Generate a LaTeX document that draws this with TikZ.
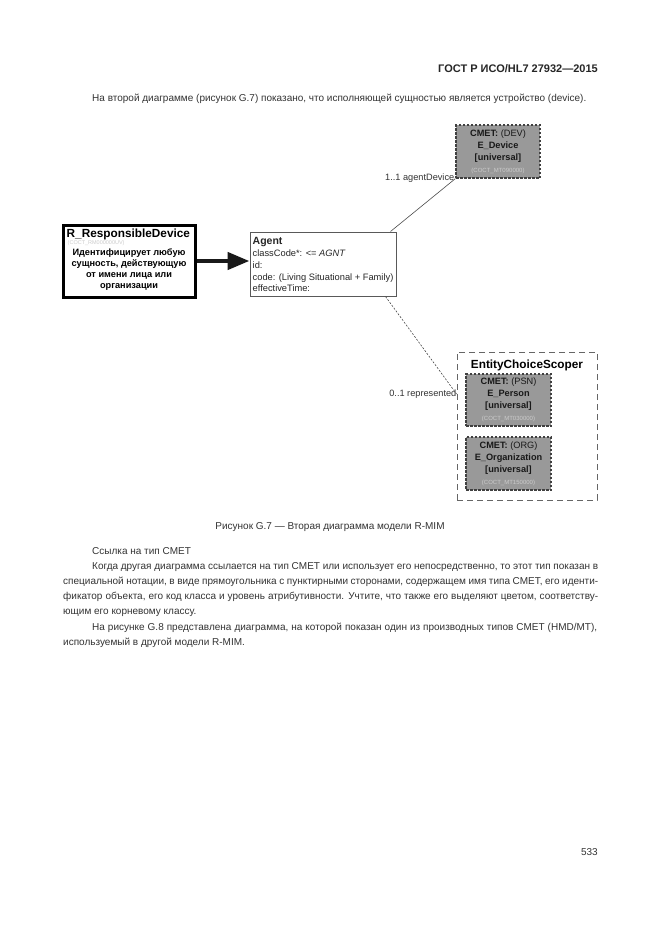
\documentclass[tikz,border=0pt]{standalone}
\usepackage{fontspec}
\setmainfont{Liberation Sans}
\usetikzlibrary{arrows.meta}
\begin{document}
\begin{tikzpicture}[x=1pt,y=-1pt,
  body/.style={inner sep=0pt, anchor=base west, text=black!80, font=\fontsize{10}{15}\selectfont},
  rbox/.style={draw=black, line width=3pt, fill=white, minimum width=132pt, minimum height=72pt, inner sep=0pt},
  classbox/.style={draw=black!65, line width=1pt, fill=white, minimum width=146pt, minimum height=64pt, inner sep=0pt},
  cmetbox/.style={draw=black!75, line width=1.1pt, dash pattern=on 2.5pt off 1.5pt, fill=black!40, inner sep=0pt, align=center, text=black!90, font=\fontsize{9.2}{12}\selectfont},
  choicebox/.style={draw=black!60, line width=0.9pt, dash pattern=on 6pt off 4pt, minimum width=140pt, minimum height=148pt, inner sep=0pt},
  idtext/.style={text=black!20, font=\fontsize{5.5}{6}\selectfont},
  rolelabel/.style={inner sep=1pt, text=black!80, font=\fontsize{9.2}{10}\selectfont},
  assoc/.style={draw=black!70, line width=0.6pt},
  bigarrow/.style={draw=black!90, line width=4.5pt, -{Triangle[length=22pt,width=17pt]}}
]
\fill[white] (0,0) rectangle (661,935);
\useasboundingbox (0,0) rectangle (661,935);

% header and intro text
\node[body, anchor=base east, font=\bfseries\fontsize{11}{13}\selectfont, text=black!85] (hdr) at (598,72) {ГОСТ Р ИСО/HL7 27932—2015};
\node[body] (intro) at (92,101) {На второй диаграмме (рисунок G.7) показано, что исполняющей сущностью является устройство (device).};

% R_ResponsibleDevice
\node[rbox] (R) at (129,261) {};
\node[inner sep=0pt, anchor=base west, font=\bfseries\fontsize{11.8}{13}\selectfont] (Rt) at ([xshift=5pt,yshift=-13.5pt]R.north west) {R\_ResponsibleDevice};
\node[inner sep=0pt, anchor=base west, idtext] (Rid) at ([xshift=6pt,yshift=-21pt]R.north west) {(COCT\_RM000000UV)};
\node[inner sep=0pt, anchor=north, align=center, font=\bfseries\fontsize{9.2}{11}\selectfont] (Rd) at ([yshift=-25pt]R.north) {Идентифицирует любую\\сущность, действующую\\от имени лица или\\организации};

% Agent
\node[classbox] (A) at (323,264) {};
\node[inner sep=0pt, anchor=north west, align=left, text=black!85, font=\fontsize{9.3}{11.7}\selectfont] (At) at ([xshift=3pt,yshift=-6pt]A.north west)
  {{\bfseries\fontsize{10.5}{11.7}\selectfont Agent}\\classCode*: <= \textit{AGNT}\\id:\\code: (Living Situational + Family)\\effectiveTime:};

% CMET device
\node[cmetbox, minimum width=84pt, minimum height=53pt] (DEV) at (498,151.5)
  {{\bfseries CMET:} (DEV)\\{\bfseries E\_Device}\\{\bfseries [universal]}\\{\fontsize{6}{6}\selectfont\color{black!20}(COCT\_MT090000)}};

% EntityChoiceScoper
\node[choicebox] (ECS) at (527,426) {};
\node[inner sep=0pt, anchor=base, font=\bfseries\fontsize{11.8}{13}\selectfont] (ECSt) at ([yshift=-17pt]ECS.north) {EntityChoiceScoper};
\node[cmetbox, minimum width=85pt, minimum height=52pt] (PSN) at (508.5,400)
  {{\bfseries CMET:} (PSN)\\{\bfseries E\_Person}\\{\bfseries [universal]}\\{\fontsize{6}{6}\selectfont\color{black!20}(COCT\_MT030000)}};
\node[cmetbox, minimum width=85pt, minimum height=53pt] (ORG) at (508.5,463.5)
  {{\bfseries CMET:} (ORG)\\{\bfseries E\_Organization}\\{\bfseries [universal]}\\{\fontsize{6}{6}\selectfont\color{black!20}(COCT\_MT150000)}};

% connectors
\draw[bigarrow] (R.east) -- (A.west |- R.east);
\draw[assoc] ([xshift=-6pt]A.north east) -- (DEV.south west);
\node[rolelabel, anchor=east] (l1) at (DEV.south west) {1..1 agentDevice};
\coordinate (ecsin) at ([yshift=32pt]ECS.west);
\draw[assoc, dash pattern=on 2pt off 1.5pt] ([xshift=-11pt]A.south east) -- (ecsin);
\node[rolelabel, anchor=east] (l2) at ([xshift=1pt]ecsin) {0..1 represented};

% caption and following text
\node[body, anchor=base] (cap) at (330,529) {Рисунок G.7 — Вторая диаграмма модели R-MIM};
\node[body] (t0) at (92,554) {Ссылка на тип CMET};
\node[body] (t1) at (92,569) {\makebox[506pt][s]{Когда другая диаграмма ссылается на тип CMET или использует его непосредственно, то этот тип показан в}};
\node[body] (t2) at (63,584) {\makebox[535pt][s]{специальной нотации, в виде прямоугольника с пунктирными сторонами, содержащем имя типа CMET, его иденти-}};
\node[body] (t3) at (63,599) {\makebox[535pt][s]{фикатор объекта, его код класса и уровень атрибутивности. Учтите, что также его выделяют цветом, соответству-}};
\node[body] (t4) at (63,614) {ющим его корневому классу.};
\node[body] (t5) at (92,630) {\makebox[505pt][s]{На рисунке G.8 представлена диаграмма, на которой показан один из производных типов CMET (HMD/MT),}};
\node[body] (t6) at (63,645) {используемый в другой модели R-MIM.};
\node[body, anchor=base east] (pg) at (598,855) {533};
\end{tikzpicture}
\end{document}
